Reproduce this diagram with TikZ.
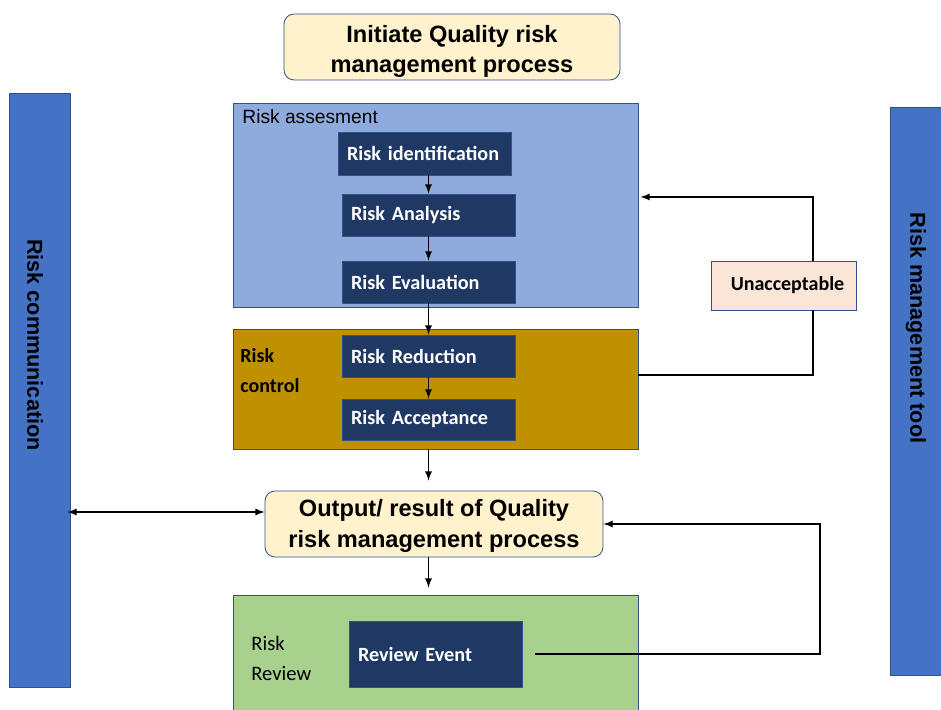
\documentclass[tikz,border=0pt]{standalone}
\usepackage{fontspec}
\setmainfont{Liberation Sans}
\newfontfamily\calibri[WordSpace=0.75]{Carlito}
\usetikzlibrary{calc}

\definecolor{cream}{HTML}{FFF2CC}
\definecolor{skyblue}{HTML}{8FAADC}
\definecolor{navy}{HTML}{203864}
\definecolor{gold}{HTML}{BF9000}
\definecolor{leaf}{HTML}{A9D18E}
\definecolor{barblue}{HTML}{4472C4}
\definecolor{peach}{HTML}{FBE5D6}
\definecolor{rim}{HTML}{2F528F}

\tikzstyle{title}=[draw=rim,fill=cream,rounded corners=5pt,align=center,inner ysep=0pt,font=\fontsize{11.8}{15}\selectfont\bfseries]
\tikzstyle{stage}=[draw=rim,fill=skyblue,inner sep=0pt]
\tikzstyle{task}=[draw=rim,fill=navy,text=white,align=left,inner xsep=4.5pt,inner ysep=0pt,text width=77.5pt,font=\calibri\fontsize{10.1}{12}\selectfont\bfseries]
\tikzstyle{bar}=[draw=rim,fill=barblue,inner sep=0pt,font=\fontsize{10.8}{13}\selectfont\bfseries]
\tikzstyle{edge} = [draw,line width=0.6pt,-latex]

\begin{document}
\begin{tikzpicture}[x=0.5pt,y=-0.5pt]
	\useasboundingbox (0,0) rectangle (941,710);
	\clip (0,0) rectangle (941,710);
			% stage boxes
			\node[stage,minimum width=202.5pt,minimum height=102pt] (assess) at (435.5,205) {};
			\node[stage,fill=gold,minimum width=202.5pt,minimum height=60pt] (ctrl) at (435.5,389) {};
			\node[stage,fill=leaf,minimum width=202.5pt,minimum height=60pt] (review) at (435.5,655) {};
			\node[anchor=base west,inner sep=0pt,font=\fontsize{9.6}{12}\selectfont] (assesslbl) at (242,124) {Risk assesment};
			\node[anchor=north west,inner sep=0pt,align=left,font=\calibri\fontsize{10}{15}\selectfont\bfseries] (ctrllbl) at (240,348) {Risk\\control};
			\node[anchor=north west,inner sep=0pt,align=left,font=\calibri\fontsize{10.3}{15}\selectfont] (reviewlbl) at (251,636) {Risk\\Review};
			% the steps
			\node[task,minimum height=21.5pt] (ident) at (424.5,153.5) {Risk identification};
			\node[task,minimum height=21pt] (analysis) at (428.5,215) {Risk Analysis};
			\node[task,minimum height=21pt] (eval) at (428.5,282) {Risk Evaluation};
			\node[task,minimum height=21pt] (reduce) at (428.5,356) {Risk Reduction};
			\node[task,minimum height=20.5pt] (accept) at (428.5,419.5) {Risk Acceptance};
			\node[task,minimum height=33pt] (event) at (435.5,654) {Review Event};
			% start and result
			\node[title,minimum width=168pt,minimum height=33pt] (init) at (452,47) {\rule{0pt}{13.5pt}Initiate Quality risk\\management process};
			\node[title,minimum width=169pt,minimum height=33pt] (output) at (434,524) {\rule{0pt}{10.5pt}Output/ result of Quality\\risk management process};
			\node[draw=rim,fill=peach,minimum width=72.5pt,minimum height=24.5pt,font=\calibri\fontsize{10}{12}\selectfont\bfseries] (unacc) at (783.5,285.5) {\hspace{4pt}Unacceptable};
			% side bars
			\node[bar,minimum width=30.5pt,minimum height=297pt] (commbar) at (39.5,390) {};
			\node[bar,minimum width=26pt,minimum height=284pt] (toolbar) at (916,391) {};
			\node[rotate=-90,font=\fontsize{10.8}{13}\selectfont\bfseries] (commtxt) at (35,345) {Risk communication};
			\node[rotate=-90,font=\fontsize{10.8}{13}\selectfont\bfseries] (tooltxt) at (916,328) {Risk management tool};
			\coordinate (loopa) at (813,300);
			\coordinate (loopb) at (820,600);
	   		 % Connect the steps
	   		\foreach \source/ \dest in {ident/analysis, analysis/eval, eval/reduce, reduce/accept}
	        		\path[edge] (\dest.north |- \source.south) -- (\dest.north);
			\path[edge,shorten >=5pt] (ctrl.south -| accept) -- (output.north -| accept);
			\path[edge,shorten >=3.5pt] (output.south -| accept) -- (review.north -| accept);
			\path[draw,line width=0.6pt,latex-latex] ([xshift=-1.5pt]commbar.east |- 0,512) -- ([yshift=6pt]output.west);
			% feedback loops
			\path[draw,line width=0.6pt] ([yshift=7pt]ctrl.east) -| (unacc.south -| loopa);
			\path[edge,shorten >=1pt] (unacc.north -| loopa) |- ([yshift=4pt]assess.east);
			\path[edge,shorten <=6.5pt] (event.east) -| (loopb |- output.east) -- (output.east);
		\end{tikzpicture}
\end{document}
